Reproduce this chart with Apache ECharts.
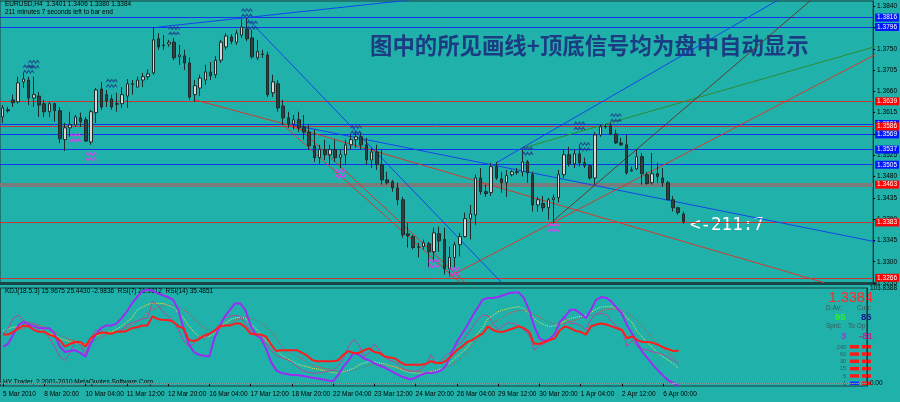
<!DOCTYPE html>
<html>
<head>
<meta charset="utf-8">
<script src="https://cdn.jsdelivr.net/npm/echarts@6/dist/echarts.min.js"></script>
<style>
  html, body { margin: 0; padding: 0; background: #20b2aa; }
  #chart { width: 900px; height: 402px; }
</style>
</head>
<body>
<div id="chart"></div>
<script>
// time axis, one label every 8 H4 bars
var timeLabels = ['5 Mar 2010', '8 Mar 20:00', '10 Mar 04:00', '11 Mar 12:00', '12 Mar 20:00', '16 Mar 04:00',
  '17 Mar 12:00', '18 Mar 20:00', '22 Mar 04:00', '23 Mar 12:00', '24 Mar 20:00', '26 Mar 04:00',
  '29 Mar 12:00', '30 Mar 20:00', '1 Apr 04:00', '2 Apr 12:00', '6 Apr 00:00'];
var slotCount = 168; // bars + empty shift on the right

// EURUSD H4: [open, close, low, high]
var candles = [
  [1.3606,1.3625,1.3593,1.3631],[1.3621,1.3619,1.3615,1.3627],[1.3642,1.3636,1.3627,1.3653],[1.3638,1.3678,1.3634,1.3691],
  [1.3680,1.3686,1.3667,1.3699],[1.3684,1.3646,1.3631,1.3691],[1.3646,1.3653,1.3627,1.3691],[1.3650,1.3631,1.3606,1.3659],
  [1.3634,1.3617,1.3606,1.3642],[1.3617,1.3634,1.3606,1.3638],[1.3634,1.3619,1.3596,1.3636],[1.3619,1.3560,1.3551,1.3627],
  [1.3558,1.3583,1.3534,1.3593],[1.3583,1.3589,1.3564,1.3617],[1.3589,1.3606,1.3585,1.3610],[1.3604,1.3596,1.3585,1.3615],
  [1.3600,1.3555,1.3553,1.3606],[1.3553,1.3617,1.3547,1.3621],[1.3615,1.3663,1.3593,1.3667],[1.3665,1.3627,1.3621,1.3680],
  [1.3653,1.3640,1.3627,1.3663],[1.3644,1.3627,1.3621,1.3653],[1.3634,1.3633,1.3617,1.3657],[1.3634,1.3653,1.3625,1.3669],
  [1.3650,1.3676,1.3625,1.3686],[1.3676,1.3675,1.3653,1.3684],[1.3669,1.3684,1.3669,1.3691],[1.3684,1.3691,1.3669,1.3699],
  [1.3691,1.3697,1.3684,1.3707],[1.3699,1.3769,1.3695,1.3796],[1.3771,1.3754,1.3748,1.3783],[1.3758,1.3757,1.3748,1.3779],
  [1.3760,1.3764,1.3754,1.3769],[1.3764,1.3731,1.3726,1.3773],[1.3733,1.3737,1.3716,1.3758],[1.3735,1.3720,1.3705,1.3748],
  [1.3720,1.3648,1.3642,1.3731],[1.3653,1.3672,1.3638,1.3684],[1.3667,1.3688,1.3650,1.3695],[1.3684,1.3701,1.3674,1.3716],
  [1.3701,1.3693,1.3684,1.3722],[1.3695,1.3726,1.3688,1.3735],[1.3726,1.3764,1.3720,1.3769],[1.3754,1.3777,1.3748,1.3783],
  [1.3775,1.3766,1.3760,1.3781],[1.3764,1.3783,1.3758,1.3790],[1.3779,1.3796,1.3773,1.3813],[1.3792,1.3771,1.3766,1.3815],
  [1.3773,1.3733,1.3729,1.3790],[1.3731,1.3744,1.3726,1.3769],[1.3739,1.3738,1.3731,1.3748],[1.3737,1.3653,1.3648,1.3744],
  [1.3657,1.3680,1.3648,1.3695],[1.3676,1.3625,1.3617,1.3684],[1.3629,1.3604,1.3589,1.3642],[1.3604,1.3591,1.3583,1.3617],
  [1.3591,1.3600,1.3579,1.3610],[1.3600,1.3583,1.3574,1.3617],[1.3585,1.3574,1.3558,1.3610],[1.3574,1.3545,1.3537,1.3589],
  [1.3545,1.3520,1.3511,1.3579],[1.3520,1.3537,1.3507,1.3547],[1.3537,1.3526,1.3515,1.3558],[1.3526,1.3537,1.3505,1.3547],
  [1.3537,1.3520,1.3511,1.3558],[1.3520,1.3526,1.3498,1.3537],[1.3526,1.3547,1.3505,1.3558],[1.3547,1.3558,1.3537,1.3568],
  [1.3558,1.3564,1.3541,1.3572],[1.3564,1.3547,1.3537,1.3572],[1.3547,1.3515,1.3505,1.3562],[1.3515,1.3532,1.3498,1.3541],
  [1.3532,1.3505,1.3494,1.3547],[1.3505,1.3473,1.3463,1.3537],[1.3473,1.3467,1.3463,1.3490],[1.3469,1.3456,1.3448,1.3473],
  [1.3456,1.3431,1.3420,1.3467],[1.3431,1.3357,1.3351,1.3437],[1.3359,1.3355,1.3330,1.3382],[1.3353,1.3330,1.3326,1.3357],
  [1.3330,1.3332,1.3309,1.3340],[1.3332,1.3340,1.3326,1.3347],[1.3338,1.3321,1.3288,1.3342],[1.3321,1.3361,1.3300,1.3372],
  [1.3359,1.3344,1.3321,1.3374],[1.3347,1.3285,1.3273,1.3372],[1.3285,1.3309,1.3269,1.3332],[1.3309,1.3336,1.3288,1.3342],
  [1.3336,1.3353,1.3311,1.3361],[1.3353,1.3391,1.3351,1.3404],[1.3391,1.3401,1.3347,1.3420],[1.3399,1.3477,1.3378,1.3484],
  [1.3477,1.3448,1.3442,1.3498],[1.3448,1.3444,1.3437,1.3463],[1.3446,1.3501,1.3439,1.3509],[1.3501,1.3477,1.3473,1.3511],
  [1.3475,1.3467,1.3446,1.3490],[1.3467,1.3482,1.3437,1.3494],[1.3484,1.3490,1.3480,1.3494],[1.3490,1.3489,1.3484,1.3498],
  [1.3490,1.3511,1.3480,1.3537],[1.3511,1.3488,1.3467,1.3515],[1.3484,1.3420,1.3406,1.3490],[1.3420,1.3431,1.3406,1.3437],
  [1.3423,1.3414,1.3406,1.3439],[1.3414,1.3431,1.3389,1.3435],[1.3431,1.3435,1.3380,1.3442],[1.3435,1.3484,1.3425,1.3494],
  [1.3484,1.3526,1.3477,1.3537],[1.3526,1.3507,1.3501,1.3543],[1.3507,1.3528,1.3498,1.3537],[1.3528,1.3509,1.3501,1.3547],
  [1.3509,1.3503,1.3498,1.3520],[1.3503,1.3477,1.3473,1.3505],[1.3477,1.3568,1.3463,1.3574],[1.3568,1.3585,1.3564,1.3589],
  [1.3585,1.3586,1.3581,1.3591],[1.3587,1.3570,1.3568,1.3593],[1.3570,1.3551,1.3549,1.3579],[1.3551,1.3547,1.3545,1.3562],
  [1.3547,1.3488,1.3484,1.3568],[1.3492,1.3494,1.3490,1.3501],[1.3496,1.3522,1.3494,1.3537],[1.3522,1.3486,1.3463,1.3530],
  [1.3484,1.3465,1.3463,1.3490],[1.3467,1.3486,1.3463,1.3530],[1.3486,1.3480,1.3467,1.3509],[1.3477,1.3467,1.3458,1.3498],
  [1.3467,1.3431,1.3431,1.3471],[1.3431,1.3414,1.3406,1.3439],[1.3414,1.3404,1.3399,1.3416],[1.3401,1.3384,1.3380,1.3406]
];

// indicator window
var rsi14 = [53,53,56,60,63,62,58,56,56,53, 51,47,40,43,45,45,40,49,53,55, 55,54,56,56,57,60,61,63,63,73,
  70,69,69,67,62,60,47,46,48,52, 54,57,62,63,63,65,65,61,54,53, 53,51,42,35,36,36,36,36,33,30,
  25,24,24,24,24,25,31,35,33,33, 36,38,34,33,29,28,27,23,20,20, 20,20,21,24,22,22,25,30,36,40,
  45,47,51,54,62,58,56,56,58,60, 62,60,56,43,43,45,47,49,58,62, 60,57,56,53,62,64,65,64,62,60,
  58,49,51,47,45,45,44,42,39,37, 35,35.49];
var rsi7 = [54,60,71,74,68,66,65,63,56,49, 40,29,25,33,45,42,31,49,58,58, 54,54,56,58,63,66,68,70,71,89,
  85,78,73,68,58,47,40,43,51,49, 53,58,64,71,73,74,73,65,57,53, 53,43,36,30,28,26,23,18,14,12,
  11,11,12,13,14,19,27,40,48,42, 29,33,43,36,29,25,23,19,14,13, 13,15,20,31,21,25,31,35,42,45,
  53,61,69,74,74,65,58,63,66,65, 63,58,53,36,41,43,47,53,67,71, 65,65,63,58,70,75,76,75,67,62,
  58,40,47,40,37,36,34,33,31,28, 25,21.93];
var kdjJ = [40,43,53,63,67,64,62,60,60,60, 54,40,34,35,36,33,29,43,53,60, 63,63,65,71,78,87,94,100,102,101,
  98,96,94,91,80,60,43,34,31,30, 29,49,62,73,80,87,87,80,63,53, 49,38,23,14,11,10,9,9,8,7,
  6,5,4,3,2,9,18,25,33,31, 27,25,22,19,17,14,11,8,6,4, 6,9,11,11,12,14,20,33,45,54,
  63,73,82,91,93,93,94,96,98,99, 99,93,80,62,49,46,48,54,67,73, 80,80,76,71,80,91,94,93,89,82,
  76,63,54,43,34,27,20,14,8,3, 0,-2.98];
var kdjK = [57,59,61,62,63,64,62,60,56,54, 53,49,47,45,44,43.5,42,47,51,54, 55,56,59,62,67,71,80,83,86,87,
  87,87,85,83,77,71,63,56,51,50, 51,54,61,65,69,71,72,71,64,60, 53,46,42,36,31,27,24,21,19,18,
  16,15.5,14,12.6,11.5,10.7,12.6,14,16,20, 22,23.5,23.5,22,21,19,17.7,15.5,13,11.8, 11,10.7,11.5,12.6,14,16,19,24,29,34,
  38.7,47,54,60.6,70,74,78,80,81.6,82.7, 83.5,81,76,70.7,66,63.5,61.6,62.7,65,67.8, 70.7,71.8,73,74,77,81,83,83.5,83.5,81,
  78,71,66,56,50,43.5,38.7,32.6,29,25, 21,15.97];
var kdjD = [53,54,56,58,60,62,63,63,62,59, 56,52,50,47.5,46,44,43.5,43.8,46.7,49.6, 52.6,54.7,56,58,60.6,63.5,66.4,70.7,77.3,80,
  83,84.6,85.3,84.6,83,80,76.6,70,65.3,60.6, 57.6,56.9,59.8,62.7,65.3,68.9,70.7,72.2,70.7,68.9,
  66.4,61.6,56,49,40.6,35.5,32,29.3,26.4,22.7, 19.8,18,16.2,15.5,14,13.3,12.6,13.3,14.4,16.2,
  18,19.8,20.6,20.6,19.8,19.1,17.7,16.2,14.8,13.7, 12.6,12.2,11.8,12.9,14.4,15.5,17.7,19.8,24.2,27.8,
  34.4,41.6,47.1,53.3,59.8,65.3,68.9,72.6,75.8,78, 79.5,79.8,78,75.1,72.2,68.9,66.4,64.6,64.2,65.3,
  67.1,68.9,71.1,72.6,73.6,76.2,78.7,80.6,80.9,81, 79.5,76.6,72.6,67.8,61.6,55.5,48.9,42.4,38,32.6,
  28.9,25.44];

// horizontal levels
var blueLevels = [1.3816, 1.3796, 1.3591, 1.3569, 1.3537, 1.3505];
var redLevels = [1.3639, 1.3586, 1.3383, 1.3266];
var greyLevels = [1.3463];

// trend lines, [bar index, price] pairs
var blueTrends = [[[29.5,1.3796],[80,1.3855]], [[47,1.3815],[96.1,1.3256]], [[55,1.3591],[168,1.3342]], [[95,1.3509],[150,1.3858]]];
var redTrends = [[[36.8,1.3642],[57,1.3583]], [[53.5,1.3589],[87.5,1.3256]], [[57,1.3583],[88.5,1.3256]],
  [[55,1.3587],[158.3,1.3256]], [[86,1.3269],[168,1.3738]]];
var greenTrends = [[[100,1.3540],[168,1.3755]]];
var brownTrends = [[[106,1.3387],[158,1.3876]]];

// top / bottom signals
var topSignals = [[5,1.3707],[6,1.3717],[21,1.3677],[33,1.3788],[47,1.3826],[48,1.3800],[68,1.3579],[101,1.3534],[111,1.3587],[112,1.3543],[118,1.3604]];
var bottomSignals = [[14,1.3562],[17,1.3522],[65,1.3486],[83,1.3296],[87,1.3279],[106,1.3372]];

var slots = [];
for (var i = 0; i < slotCount; i++) slots.push('b' + i);

var FONT = 'Liberation Sans';
var ZIG = 'path://M0,3L2,0L4,3L6,0L8,3L10,0L12,3M0,9L2,6L4,9L6,6L8,9L10,6L12,9';

function levelMark(v, lineColor, boxColor, width) {
  return {
    yAxis: v,
    lineStyle: { color: lineColor, width: width || 1, type: 'solid' },
    label: {
      show: true, position: 'end', distance: 2,
      formatter: v.toFixed(4),
      color: '#fff', backgroundColor: boxColor,
      fontFamily: FONT, fontSize: 6.5, padding: [1, 2, 0, 2]
    }
  };
}

var marks = [];
greyLevels.forEach(function (v) { marks.push(levelMark(v, '#787c7c', '#ff0000', 4)); });
blueLevels.forEach(function (v) { marks.push(levelMark(v, '#1034f0', '#0018ff')); });
redLevels.forEach(function (v) { marks.push(levelMark(v, '#cc3535', '#ff0000')); });

function trendSeries(list, color) {
  return list.map(function (seg) {
    return {
      type: 'line', xAxisIndex: 0, yAxisIndex: 0, data: seg,
      symbol: 'none', silent: true, clip: true,
      lineStyle: { color: color, width: 1 }, z: 3
    };
  });
}

var chart = echarts.init(document.getElementById('chart'));

var series = [];
series = series.concat(trendSeries(blueTrends, '#1444e8'));
series = series.concat(trendSeries(redTrends, '#d03a30'));
series = series.concat(trendSeries(greenTrends, '#2c8a34'));
series = series.concat(trendSeries(brownTrends, '#5e3a2c'));

series.push({
  type: 'candlestick', xAxisIndex: 0, yAxisIndex: 0,
  data: candles, barWidth: 3, z: 4,
  itemStyle: {
    color: '#d6d6d6', color0: '#2f4040',
    borderColor: '#1c2a2a', borderColor0: '#1c2a2a', borderWidth: 1
  },
  markLine: {
    silent: true, symbol: ['none', 'none'], animation: false, precision: 4,
    data: marks, z: 2
  }
});

series.push({
  type: 'scatter', xAxisIndex: 0, yAxisIndex: 0, data: topSignals,
  symbol: ZIG, symbolSize: [11, 8], silent: true, z: 5,
  itemStyle: { color: 'rgba(0,0,0,0)', borderColor: '#1d3a8a', borderWidth: 1 }
});
series.push({
  type: 'scatter', xAxisIndex: 0, yAxisIndex: 0, data: bottomSignals,
  symbol: ZIG, symbolSize: [11, 8], silent: true, z: 5,
  itemStyle: { color: 'rgba(0,0,0,0)', borderColor: '#ff28ff', borderWidth: 1 }
});

function indLine(data, color, width, type) {
  return {
    type: 'line', xAxisIndex: 1, yAxisIndex: 1, data: data,
    symbol: 'none', silent: true,
    lineStyle: { color: color, width: width, type: type || 'solid' }
  };
}
series.push(indLine(kdjD, '#cc4a4a', 1, 'dotted'));
series.push(indLine(kdjK, '#eaea40', 1, 'dotted'));
series.push(indLine(rsi7, '#b0469e', 1));
series.push(indLine(kdjJ, '#9a2cf4', 2));
var rsi14Series = indLine(rsi14, '#ff1c1c', 2);
rsi14Series.markLine = {
  silent: true, symbol: ['none', 'none'], animation: false, label: { show: false }, precision: 4,
  data: [{ yAxis: 0 }], lineStyle: { color: '#c9dede', type: 'dotted', width: 1 }
};
series.push(rsi14Series);

var txt = function (x, y, s, size, color, extra) {
  var o = { type: 'text', left: x, top: y, silent: true,
    style: { text: s, fontSize: size, fill: color, fontFamily: FONT } };
  if (extra) for (var k in extra) o.style[k] = extra[k];
  return o;
};

var graphics = [
  txt(5, 1, 'EURUSD,H4  1.3401 1.3406 1.3380 1.3384', 6.5, '#000'),
  txt(5, 9, '211 minutes 7 seconds left to bar end', 6.5, '#000'),
  txt(370, 34, '图中的所见画线+顶底信号均为盘中自动显示', 22.4, '#1b3c82',
    { fontFamily: 'Noto Sans CJK SC', fontWeight: 'bold' }),
  txt(690, 216, '<-211:7', 17.5, '#ffffff', { fontFamily: 'DejaVu Sans Mono' }),
  txt(5, 288, 'KDJ(18.5.3) 15.9675 25.4430 -2.9836  RSI(7) 21.9312  RSI(14) 35.4851', 6.5, '#000'),
  txt(3, 379, 'HY Trader, ? 2001-2010 MetaQuotes Software Corp.', 6.5, '#000'),
  { type: 'rect', left: 0, top: 282, silent: true, shape: { width: 877, height: 3 }, style: { fill: '#1a4646' } },
  // info block
  { type: 'text', right: 27, top: 290, silent: true, style: { text: '1.3384', fontSize: 14.5, fill: '#ff2a2a', fontFamily: FONT } },
  txt(826, 305, 'D.Av:', 6.5, '#3d5656'),
  txt(857, 305, 'Curr:', 6.5, '#3d5656'),
  txt(835, 312, '95', 9.5, '#2cf02c', { fontWeight: 'bold' }),
  txt(861, 312, '86', 9.5, '#14148a', { fontWeight: 'bold' }),
  txt(826, 323, 'Sprd:', 6.5, '#3d5656'),
  txt(848, 323, 'To Op:', 6.5, '#3d5656'),
  txt(841, 331, '3', 9.5, '#8c3ed0', { fontWeight: 'bold' }),
  txt(859, 331, '-81', 9.5, '#c2248e', { fontWeight: 'bold' })
];
var tfLabels = ['240', '60', '30', '15', '5', '1'];
tfLabels.forEach(function (t, k) {
  var y = 345 + k * 7.3;
  graphics.push({ type: 'text', right: 54, top: y - 1, silent: true,
    style: { text: t, fontSize: 5.5, fill: '#3d5656', fontFamily: FONT, align: 'right' } });
  graphics.push({ type: 'rect', left: 850, top: y, silent: true, shape: { width: 9, height: 3.5 },
    style: { fill: k === 5 ? '#1030ff' : '#ff1a1a' } });
  graphics.push({ type: 'rect', left: 862, top: y, silent: true, shape: { width: 9, height: 3.5 },
    style: { fill: '#ff1a1a' } });
});

chart.setOption({
  backgroundColor: '#20b2aa',
  animation: false,
  textStyle: { fontFamily: FONT },
  grid: [
    { left: 0, right: 24, top: 1, height: 282, show: true, borderColor: '#1c3c3c', borderWidth: 1 },
    { left: 0, right: 24, top: 288, height: 98, show: true, borderColor: '#1c3c3c', borderWidth: 1 }
  ],
  xAxis: [
    { type: 'category', gridIndex: 0, data: slots, boundaryGap: true,
      axisLine: { show: false }, axisTick: { show: false }, axisLabel: { show: false }, splitLine: { show: false } },
    { type: 'category', gridIndex: 1, data: slots, boundaryGap: true,
      axisLine: { show: true, lineStyle: { color: '#1c3c3c', width: 1 } },
      axisTick: { show: true, alignWithLabel: true, length: 3, lineStyle: { color: '#000' },
        interval: function (idx) { return idx % 8 === 0 && idx / 8 < timeLabels.length; } },
      axisLabel: {
        show: true, fontSize: 6.5, color: '#000', align: 'left', margin: 5, fontFamily: FONT,
        interval: function (idx) { return idx % 8 === 0 && idx / 8 < timeLabels.length; },
        formatter: function (v, idx) { return timeLabels[idx / 8] || ''; }
      },
      splitLine: { show: false } }
  ],
  yAxis: [
    { type: 'value', gridIndex: 0, position: 'right', min: 1.3255, max: 1.3851, interval: 0.0045,
      axisLine: { show: true, lineStyle: { color: '#1c3c3c' } },
      axisTick: { show: true, length: 2, lineStyle: { color: '#000' } },
      axisLabel: { fontSize: 6.5, color: '#000', margin: 4, fontFamily: FONT,
        formatter: function (v) { return v.toFixed(4); } },
      splitLine: { show: false } },
    { type: 'value', gridIndex: 1, position: 'right', min: -3.0704, max: 103.8388,
      axisLine: { show: true, lineStyle: { color: '#1c3c3c' } },
      axisTick: { show: false },
      axisLabel: { fontSize: 6.5, color: '#000', margin: 3, fontFamily: FONT,
        customValues: [103.8388, 0, -3.0704],
        formatter: function (v) { return v === 0 ? '0.00' : v.toFixed(4); } },
      splitLine: { show: false } }
  ],
  graphic: graphics,
  series: series
});
</script>
</body>
</html>
